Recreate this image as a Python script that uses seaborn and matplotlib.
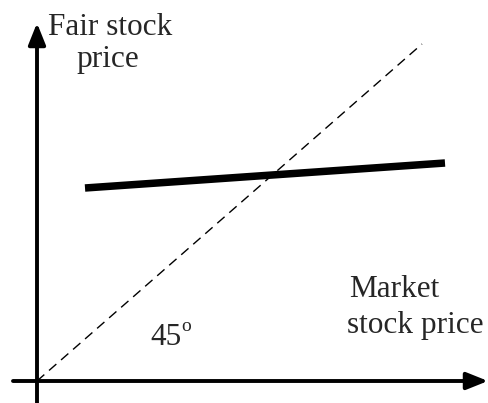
import matplotlib
matplotlib.use("Agg")
import matplotlib.pyplot as plt
import seaborn as sns

# --- data (units: origin at axis crossing) ---
diag_market = [0, 385]
diag_fair = [0, 337]
value_market = [48, 408]
value_fair = [193, 218]

sns.set_style("white")
plt.rcParams['font.family'] = ['Liberation Serif', 'DejaVu Serif']

fig = plt.figure(figsize=(4.88, 4.03), dpi=100)
ax = fig.add_axes([0, 0, 1, 1])
ax.set_xlim(-37, 451)
ax.set_ylim(-22, 381)
ax.axis('off')

# 45 degree reference line
sns.lineplot(x=diag_market, y=diag_fair, ax=ax, color='black', lw=1.0,
             linestyle=(0, (7, 4.5)))
# fair value line
sns.lineplot(x=value_market, y=value_fair, ax=ax, color='black', lw=5.4,
             solid_capstyle='butt')

# axes with arrows
arrow = dict(arrowstyle='-|>,head_length=1.0,head_width=0.4', lw=2.8,
             color='black', mutation_scale=13, shrinkA=0, shrinkB=0)
ax.annotate('', xy=(0, 358), xytext=(0, -22), arrowprops=arrow)
ax.annotate('', xy=(451, 0), xytext=(-24, 0), arrowprops=arrow)

fs = 22.5
ax.text(73, 346, 'Fair stock', fontsize=fs, ha='center', va='baseline')
ax.text(71, 314, 'price', fontsize=fs, ha='center', va='baseline')
ax.text(357, 84, 'Market', fontsize=fs, ha='center', va='baseline')
ax.text(378, 48, 'stock price', fontsize=fs, ha='center', va='baseline')
ax.text(113, 36, '45', fontsize=fs, ha='left', va='baseline')
ax.text(144, 50, 'o', fontsize=14, ha='left', va='baseline')

fig.savefig('out.png', dpi=100)
